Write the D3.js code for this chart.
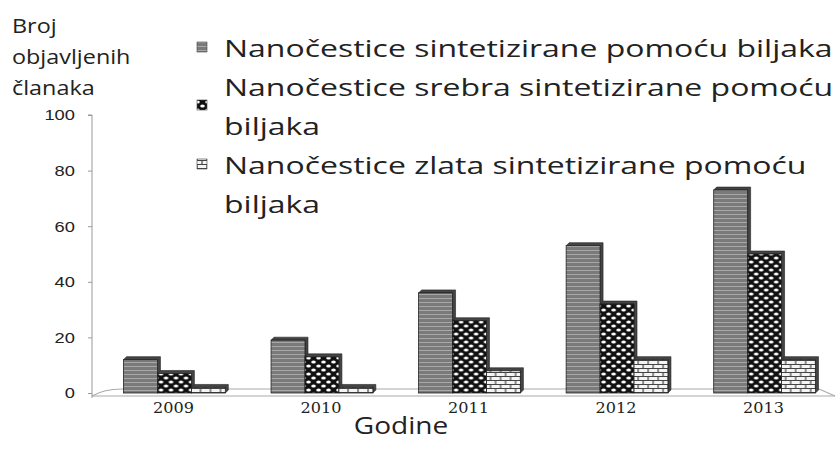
<!DOCTYPE html>
<html>
<head>
<meta charset="utf-8">
<script src="https://cdn.jsdelivr.net/npm/d3@7"></script>
<style>
  body { margin: 0; background: #fff; }
  svg { display: block; }
</style>
</head>
<body>
<svg id="chart"></svg>
<script>
const width = 837, height = 461;

// data
const years = ["2009", "2010", "2011", "2012", "2013"];
const seriesNames = [
    "Nanočestice sintetizirane pomoću biljaka",
    "Nanočestice srebra sintetizirane pomoću biljaka",
    "Nanočestice zlata sintetizirane pomoću biljaka"
];
const allPlants = [12, 19, 36, 53, 73];
const silver = [7, 13, 26, 32, 50];
const gold = [2, 2, 8, 12, 12];
const yTicks = [0, 20, 40, 60, 80, 100];

const series = [allPlants, silver, gold];

// the source picture is stretched sideways, so text is too
const stretch = 1.22;
const stretchText = (sel, k) => sel.each(function() {
    const t = d3.select(this);
    const tx = +t.attr("x") || 0, ty = +t.attr("y") || 0;
    t.attr("x", 0).attr("y", 0).attr("transform", `translate(${tx},${ty}) scale(${k},1)`);
});

const svg = d3.select("#chart")
    .attr("width", width)
    .attr("height", height);

const defs = svg.append("defs");

// horizontal striped gray
const p1 = defs.append("pattern")
    .attr("id", "p1").attr("patternUnits", "userSpaceOnUse")
    .attr("width", 6).attr("height", 4);
p1.append("rect").attr("width", 6).attr("height", 4).attr("fill", "#7a7a7a");
p1.append("rect").attr("y", 2).attr("width", 6).attr("height", 1).attr("fill", "#a8a8a8");

// black with white ovals (checker-ish)
const p2 = defs.append("pattern")
    .attr("id", "p2").attr("patternUnits", "userSpaceOnUse")
    .attr("width", 10).attr("height", 8);
p2.append("rect").attr("width", 10).attr("height", 8).attr("fill", "#111");
p2.append("ellipse").attr("cx", 2.5).attr("cy", 2).attr("rx", 2.3).attr("ry", 1.6).attr("fill", "#fff");
p2.append("ellipse").attr("cx", 7.5).attr("cy", 6).attr("rx", 2.3).attr("ry", 1.6).attr("fill", "#fff");

// brick
const p3 = defs.append("pattern")
    .attr("id", "p3").attr("patternUnits", "userSpaceOnUse")
    .attr("width", 10).attr("height", 8);
p3.append("rect").attr("width", 10).attr("height", 8).attr("fill", "#f4f4f4");
p3.append("path")
    .attr("d", "M0,0.5H10M0,4.5H10M2,0V4M7,4V8")
    .attr("stroke", "#444").attr("stroke-width", 1.2).attr("fill", "none");

const fills = ["url(#p1)", "url(#p2)", "url(#p3)"];

const axisX = 92;

const x = d3.scaleBand()
    .domain(years)
    .range([94, 845])
    .paddingInner(0.31)
    .paddingOuter(0.2);

const xs = d3.scaleBand()
    .domain(d3.range(series.length))
    .range([0, x.bandwidth()])
    .padding(0);

const y = d3.scaleLinear()
    .domain([0, 100])
    .range([393, 115]);

// 3D floor
const floor = svg.append("g").attr("fill", "none").attr("stroke", "#aaa").attr("stroke-width", 1.2);
floor.append("path")
    .attr("d", `M${axisX},${y(0) + 3} Q${axisX + 12},${y(0) - 4} ${axisX + 30},${y(0) - 4} L${width - 18},${y(0) - 4} L${width - 2},${y(0) + 3}`);
floor.append("line")
    .attr("x1", axisX).attr("x2", width - 2)
    .attr("y1", y(0) + 3).attr("y2", y(0) + 3);

// y axis
const yAxis = svg.append("g")
    .attr("transform", `translate(${axisX},0)`)
    .call(d3.axisLeft(y).tickValues(yTicks).tickSize(4).tickPadding(10));
yAxis.select(".domain").attr("stroke", "#999").attr("d", `M-4,${y(100)}H0V${y(0) + 5}`);
yAxis.selectAll(".tick line").attr("stroke", "#999");
yAxis.selectAll(".tick text")
    .attr("font-family", "Liberation Sans, Arial, sans-serif")
    .attr("font-size", 15)
    .attr("fill", "#222")
    .attr("transform", `scale(${stretch},1)`);

// bars with a thin 3D side
const depth = 3;
const groups = svg.append("g").selectAll("g")
    .data(years)
    .join("g")
    .attr("transform", d => `translate(${x(d)},0)`);

series.forEach((vals, si) => {
    groups.append("polygon")
        .attr("points", (d, i) => {
            const x0 = xs(si), x1 = xs(si) + xs.bandwidth();
            const top = y(vals[i]);
            return `${x0},${top} ${x0 + depth},${top - depth} ${x1 + depth},${top - depth} ${x1 + depth},${y(0) - depth} ${x1},${y(0)} ${x1},${top}`;
        })
        .attr("fill", "#444")
        .attr("stroke", "#222")
        .attr("stroke-width", 0.6);
    groups.append("rect")
        .attr("x", xs(si))
        .attr("y", (d, i) => y(vals[i]))
        .attr("width", xs.bandwidth())
        .attr("height", (d, i) => y(0) - y(vals[i]))
        .attr("fill", fills[si])
        .attr("stroke", "#222")
        .attr("stroke-width", 0.8);
});

// x labels
svg.append("g").selectAll("text")
    .data(years)
    .join("text")
    .attr("x", d => x(d) + x.bandwidth() / 2 - 1)
    .attr("y", 413)
    .attr("text-anchor", "middle")
    .attr("font-family", "DejaVu Serif, serif")
    .attr("font-size", 14)
    .attr("fill", "#222")
    .text(d => d)
    .call(stretchText, 1.15);

svg.append("text")
    .attr("x", 401)
    .attr("y", 434)
    .attr("text-anchor", "middle")
    .attr("font-family", "Open Sans, sans-serif")
    .attr("font-size", 23)
    .attr("fill", "#222")
    .text("Godine")
    .call(stretchText, stretch);

// y title
svg.append("g").selectAll("text")
    .data([{t: "Broj", y: 33}, {t: "objavljenih", y: 64}, {t: "članaka", y: 95}])
    .join("text")
    .attr("x", 12)
    .attr("y", d => d.y)
    .attr("font-family", "Open Sans, sans-serif")
    .attr("font-size", 20)
    .attr("fill", "#222")
    .text(d => d.t)
    .call(stretchText, 1.17);

// legend
const legendLines = [
    {text: "Nanočestice sintetizirane pomoću biljaka", y: 57},
    {text: "Nanočestice srebra sintetizirane pomoću", y: 96},
    {text: "biljaka", y: 135},
    {text: "Nanočestice zlata sintetizirane pomoću", y: 174},
    {text: "biljaka", y: 213}
];
const legendMarks = [{y: 42, s: 0}, {y: 100, s: 1}, {y: 159, s: 2}];

const legendText = svg.append("g").selectAll("text")
    .data(legendLines)
    .join("text")
    .attr("x", 224)
    .attr("y", d => d.y)
    .attr("font-family", "Open Sans, sans-serif")
    .attr("font-size", 23.5)
    .attr("fill", "#222")
    .text(d => d.text);

// fit the first line to the width it has in the picture
const w0 = legendText.node().getComputedTextLength();
legendText.call(stretchText, 609 / w0);

svg.append("g").selectAll("rect")
    .data(legendMarks)
    .join("rect")
    .attr("x", 197)
    .attr("y", d => d.y)
    .attr("width", 10)
    .attr("height", 10)
    .attr("fill", d => fills[d.s])
    .attr("stroke", "#444")
    .attr("stroke-width", 0.6);
</script>
</body>
</html>
